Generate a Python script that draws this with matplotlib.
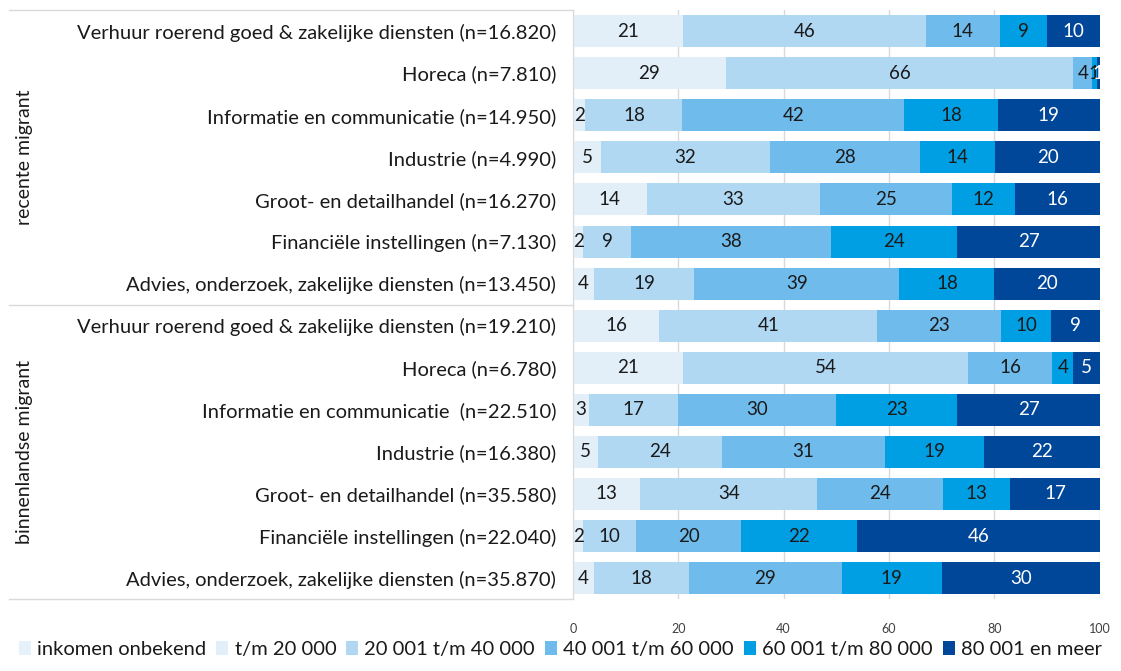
import matplotlib.pyplot as plt
import numpy as np

plt.rcParams['font.family'] = ['Lato', 'DejaVu Sans']

# categories, top to bottom
labels = [
    'Verhuur roerend goed & zakelijke diensten (n=16.820)',
    'Horeca (n=7.810)',
    'Informatie en communicatie (n=14.950)',
    'Industrie (n=4.990)',
    'Groot- en detailhandel (n=16.270)',
    'Financiële instellingen (n=7.130)',
    'Advies, onderzoek, zakelijke diensten (n=13.450)',
    'Verhuur roerend goed & zakelijke diensten (n=19.210)',
    'Horeca (n=6.780)',
    'Informatie en communicatie  (n=22.510)',
    'Industrie (n=16.380)',
    'Groot- en detailhandel (n=35.580)',
    'Financiële instellingen (n=22.040)',
    'Advies, onderzoek, zakelijke diensten (n=35.870)',
]
groups = ['recente migrant', 'binnenlandse migrant']

series_names = ['inkomen onbekend', 't/m 20 000', '20 001 t/m 40 000',
                '40 001 t/m 60 000', '60 001 t/m 80 000', '80 001 en meer']
# percentages (unrounded where bars show it)
onbekend = [0, 0, 0, 0, 0, 0, 0, 0, 0, 0, 0, 0, 0, 0]
tm20 = [21, 29, 2.4, 5.4, 14, 2, 4, 16.4, 21, 3, 4.8, 12.8, 2, 4]
tm40 = [46, 66, 18.4, 32.0, 33, 9, 19, 41.4, 54, 17, 23.6, 33.6, 10, 18]
tm60 = [14, 3.6, 42.1, 28.4, 25, 38, 39, 23.4, 16, 30, 30.8, 23.8, 20, 29]
tm80 = [9, 0.8, 17.8, 14.4, 12, 24, 18, 9.6, 4, 23, 18.8, 12.8, 22, 19]
meer = [10, 0.6, 19.3, 19.8, 16, 27, 20, 9.2, 5, 27, 22.0, 17.0, 46, 30]

colors = ['#e6f1fb', '#e2eff9', '#b1d8f3', '#6fbbec', '#009fe3', '#00479a']
text_colors = ['#1a1a1a'] * 5 + ['white']

fig = plt.figure(figsize=(11.21, 6.71), dpi=100)
ax = fig.add_axes([0.511, 0.107, 0.47, 0.878])

y = np.arange(len(labels))
left = np.zeros(len(labels))
for name, vals, c, tc in zip(series_names, [onbekend, tm20, tm40, tm60, tm80, meer],
                             colors, text_colors):
    vals = np.array(vals, dtype=float)
    ax.barh(y, vals, left=left, height=0.76, color=c, label=name, zorder=2)
    for yi, (l, v) in enumerate(zip(left, vals)):
        if v > 0:
            ax.text(l + v / 2, yi, f'{v:.0f}', ha='center', va='center',
                    fontsize=13.5, color=tc, zorder=3)
    left += vals

ax.set_xlim(0, 100)
ax.set_ylim(len(labels) - 0.5, -0.5)
ax.set_xticks([0, 20, 40, 60, 80, 100])
ax.tick_params(axis='x', length=0, labelsize=9, colors='#404040', pad=17)
ax.set_yticks(y)
ax.set_yticklabels(labels, fontsize=14.5, color='#1a1a1a')
ax.tick_params(axis='y', length=0, pad=12)
ax.grid(axis='x', color='#d9d9d9', linewidth=1, zorder=0)
for s in ['top', 'right', 'bottom']:
    ax.spines[s].set_visible(False)
ax.spines['left'].set_color('#d9d9d9')

# frame lines of the category area
tr = ax.get_yaxis_transform()
for yb in [-0.5, 6.5, 13.5]:
    ax.plot([-1.07, 0], [yb, yb], color='#d9d9d9', lw=1, transform=tr, clip_on=False)
ax.text(-1.04, 3, groups[0], rotation=90, ha='center', va='center',
        fontsize=14, color='#1a1a1a', transform=tr)
ax.text(-1.04, 10, groups[1], rotation=90, ha='center', va='center',
        fontsize=14, color='#1a1a1a', transform=tr)

fig.legend(loc='lower center', bbox_to_anchor=(0.5, -0.008), ncol=6, frameon=False,
           fontsize=14.5, handlelength=0.6, handleheight=0.7, handletextpad=0.3,
           columnspacing=0.5, labelcolor='#1a1a1a')

fig.savefig('out.png', dpi=100)
